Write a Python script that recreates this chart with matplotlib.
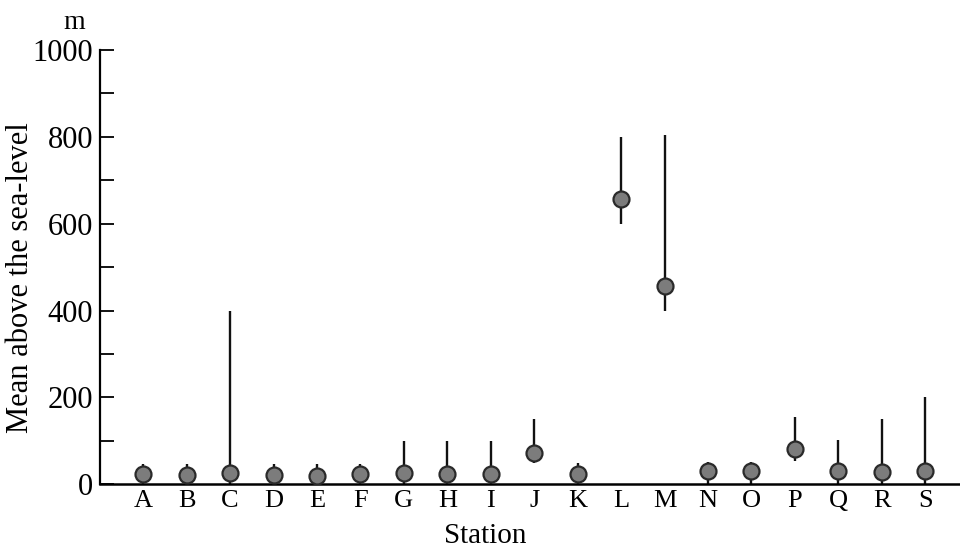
import numpy as np
import matplotlib
matplotlib.use('Agg')
from matplotlib import pyplot as plt
from matplotlib.ticker import MultipleLocator

stations = ['A', 'B', 'C', 'D', 'E', 'F', 'G', 'H', 'I', 'J',
            'K', 'L', 'M', 'N', 'O', 'P', 'Q', 'R', 'S']
mean = [25, 22, 26, 22, 20, 25, 27, 25, 25, 72, 23, 656, 456, 30, 31, 82, 32, 29, 32]
low = [0, 0, 0, 0, 0, 0, 0, 0, 0, 50, 0, 600, 400, 0, 0, 55, 0, 0, 0]
high = [48, 48, 400, 48, 48, 46, 100, 100, 100, 150, 50, 800, 805, 52, 52, 155, 102, 150, 202]

plt.rcParams['font.family'] = ['Liberation Serif', 'DejaVu Serif']

fig = plt.figure(figsize=(9.6, 5.53), dpi=100)
ax = fig.add_axes([0.104, 0.124, 0.896, 0.786])

x = np.arange(len(stations))
ax.vlines(x, low, high, color='#111111', lw=1.7, zorder=2)
ax.plot(x, mean, 'o', ms=11.5, mfc='#7c7c7c', mec='#2a2a2a', mew=1.6, zorder=3)

ax.set_xlim(-1, 18.8)
ax.set_ylim(0, 1000)
ax.set_xticks(x)
ax.set_xticklabels(stations, fontsize=19)
ax.tick_params(axis='x', length=0, pad=4)
ax.yaxis.set_major_locator(MultipleLocator(200))
ax.yaxis.set_minor_locator(MultipleLocator(100))
ax.tick_params(axis='y', which='both', direction='in', length=10, width=1.3, labelsize=22, pad=5)

for s in ['top', 'right']:
    ax.spines[s].set_visible(False)
ax.spines['left'].set_linewidth(1.6)
ax.spines['bottom'].set_linewidth(1.8)

ax.set_ylabel('Mean above the sea-level', fontsize=22)
ax.yaxis.set_label_coords(-0.075, 0.475)
ax.set_xlabel('Station', fontsize=21, va='top')
ax.xaxis.set_label_coords(0.448, -0.088)
fig.text(0.077, 0.96, 'm', fontsize=20, ha='center', va='center')

fig.savefig('out.png', dpi=100)
